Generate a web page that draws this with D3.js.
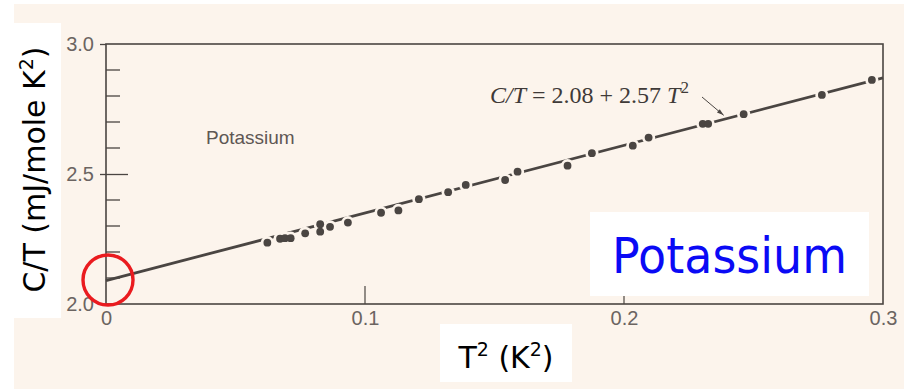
<!DOCTYPE html>
<html>
<head>
<meta charset="utf-8">
<script src="https://cdn.jsdelivr.net/npm/d3@7"></script>
<style>
html,body{margin:0;padding:0;background:#ffffff;}
svg{display:block;}
</style>
</head>
<body>
<svg id="chart" width="904" height="389"></svg>
<script>
// ---- data ----
const t2Values = [0.0623, 0.0672, 0.0691, 0.0713, 0.0769, 0.0827, 0.0827, 0.0865, 0.0934,
                  0.1062, 0.1129, 0.1208, 0.1321, 0.1389, 0.1541, 0.1589, 0.1782, 0.1876,
                  0.2034, 0.2095, 0.2304, 0.2325, 0.2462, 0.2764, 0.2957];
const ctValues = [2.236, 2.251, 2.253, 2.253, 2.272, 2.307, 2.278, 2.297, 2.313,
                  2.351, 2.360, 2.403, 2.430, 2.458, 2.477, 2.509, 2.532, 2.580,
                  2.609, 2.640, 2.693, 2.693, 2.730, 2.804, 2.862];
const fitLineT2 = [0, 0.3];
const fitLineCT = [2.09, 2.87];
const xTickValues = [0, 0.1, 0.2, 0.3];
const xTickLabels = ["0", "0.1", "0.2", "0.3"];
const yTickValues = [2.0, 2.5, 3.0];
const yTickLabels = ["2.0", "2.5", "3.0"];
const yMinorTicks = [2.1, 2.2, 2.3, 2.4, 2.6, 2.7, 2.8, 2.9];

const svg = d3.select("#chart");
const W = 904, H = 389;
const ink = "#4a4542";
const paper = "#fcf4ec";

// scanned page background
svg.append("rect").attr("x", 14).attr("y", 4).attr("width", W - 14).attr("height", H - 4).attr("fill", paper);
// white label boxes
svg.append("rect").attr("x", 0).attr("y", 23).attr("width", 61).attr("height", 295).attr("fill", "#ffffff");
svg.append("rect").attr("x", 440).attr("y", 324).attr("width", 132).attr("height", 58).attr("fill", "#ffffff");

const x = d3.scaleLinear().domain([0, 0.3]).range([106, 883]);
const y = d3.scaleLinear().domain([2, 3]).range([304, 44]);

// frame
svg.append("rect").attr("x", x(0)).attr("y", y(3)).attr("width", x(0.3) - x(0)).attr("height", y(2) - y(3))
  .attr("fill", "none").attr("stroke", ink).attr("stroke-width", 1.6);

// y axis ticks (inward minor, crossing major)
const yAxis = d3.axisLeft(y).tickValues(yTickValues)
  .tickFormat((d, i) => yTickLabels[i]).tickSizeInner(6).tickSizeOuter(0).tickPadding(6);
const gy = svg.append("g").attr("transform", `translate(${x(0)},0)`).call(yAxis);
gy.select(".domain").remove();
gy.selectAll(".tick line").attr("stroke", ink).attr("stroke-width", 1.3);
gy.selectAll(".tick").filter(d => d === 2.5).select("line").attr("x1", 22).attr("x2", -6);
gy.selectAll(".tick text").attr("fill", "#6b6461").attr("font-family", "Liberation Sans, Arial, sans-serif")
  .attr("font-size", 20).attr("dy", "0.34em");

svg.append("g").selectAll("line").data(yMinorTicks).join("line")
  .attr("x1", x(0)).attr("x2", x(0) + 14)
  .attr("y1", d => y(d)).attr("y2", d => y(d))
  .attr("stroke", ink).attr("stroke-width", 1.3);

// x axis
const xAxis = d3.axisBottom(x).tickValues(xTickValues)
  .tickFormat((d, i) => xTickLabels[i]).tickSize(0).tickPadding(7);
const gx = svg.append("g").attr("transform", `translate(0,${y(2)})`).call(xAxis);
gx.select(".domain").remove();
gx.selectAll(".tick text").attr("fill", "#6b6461").attr("font-family", "Liberation Sans, Arial, sans-serif")
  .attr("font-size", 20).attr("dy", "0.71em");
svg.append("g").selectAll("line").data(xTickValues.filter(d => d > 0 && d < 0.3)).join("line")
  .attr("x1", d => x(d)).attr("x2", d => x(d))
  .attr("y1", y(2)).attr("y2", y(2) - 18)
  .attr("stroke", ink).attr("stroke-width", 1.2);

// fit line
const lineData = fitLineT2.map((t, i) => ({t: t, c: fitLineCT[i]}));
svg.append("path").datum(lineData)
  .attr("d", d3.line().x(d => x(d.t)).y(d => y(d.c)))
  .attr("stroke", ink).attr("stroke-width", 2.8).attr("fill", "none");

// points with paper-coloured halo breaking the line
const pts = t2Values.map((t, i) => ({t: t, c: ctValues[i]}));
svg.append("g").selectAll("circle.halo").data(pts).join("circle")
  .attr("cx", d => x(d.t)).attr("cy", d => y(d.c)).attr("r", 6.6).attr("fill", paper);
svg.append("g").selectAll("circle.pt").data(pts).join("circle")
  .attr("cx", d => x(d.t)).attr("cy", d => y(d.c)).attr("r", 3.9).attr("fill", ink);

// small label inside plot
svg.append("text").attr("x", 206).attr("y", 144).text("Potassium")
  .attr("font-family", "Liberation Sans, Arial, sans-serif").attr("font-size", 19).attr("fill", "#5e5754");

// formula annotation
const ann = svg.append("text").attr("x", 490).attr("y", 103)
  .attr("font-family", "Liberation Serif, Times New Roman, serif").attr("font-size", 24).attr("fill", "#3f3a38");
ann.append("tspan").attr("font-style", "italic").text("C/T");
ann.append("tspan").text(" = 2.08 + 2.57 ");
ann.append("tspan").attr("font-style", "italic").text("T");
ann.append("tspan").attr("font-size", 17).attr("dy", -10).text("2");

// arrow to the line
const arrowTipT = 0.2385;
const tipX = x(arrowTipT), tipY = y(2.09 + (2.87 - 2.09) * arrowTipT / 0.3) - 4;
svg.append("line").attr("x1", 702).attr("y1", 97).attr("x2", tipX).attr("y2", tipY)
  .attr("stroke", "#4a4542").attr("stroke-width", 1);
{
  const ang = Math.atan2(tipY - 97, tipX - 702);
  const L = 7, w = 2.2;
  const bx = tipX - L * Math.cos(ang), by = tipY - L * Math.sin(ang);
  svg.append("path")
    .attr("d", `M${tipX},${tipY} L${bx - w * Math.sin(ang)},${by + w * Math.cos(ang)} L${bx + w * Math.sin(ang)},${by - w * Math.cos(ang)} Z`)
    .attr("fill", "#4a4542");
}

// blue label box
svg.append("rect").attr("x", 590).attr("y", 212).attr("width", 279).attr("height", 84).attr("fill", "#ffffff");
svg.append("text").attr("x", 612).attr("y", 273).text("Potassium")
  .attr("font-family", "DejaVu Sans, Verdana, sans-serif").attr("font-size", 50)
  .attr("textLength", 235).attr("lengthAdjust", "spacingAndGlyphs").attr("fill", "#0a0af5");

// axis titles
const yt = svg.append("text").attr("transform", "translate(45,169.5) rotate(-90)")
  .attr("text-anchor", "middle").attr("font-family", "DejaVu Sans, Verdana, sans-serif")
  .attr("font-size", 30).attr("fill", "#000");
yt.append("tspan").text("C/T (mJ/mole K");
yt.append("tspan").attr("font-size", 19).attr("dy", -12).text("2");
yt.append("tspan").attr("dy", 12).text(")");

const xt = svg.append("text").attr("x", 506).attr("y", 368).attr("text-anchor", "middle")
  .attr("font-family", "DejaVu Sans, Verdana, sans-serif").attr("font-size", 30).attr("fill", "#000");
xt.append("tspan").text("T");
xt.append("tspan").attr("font-size", 19).attr("dy", -12).text("2");
xt.append("tspan").attr("dy", 12).text(" (K");
xt.append("tspan").attr("font-size", 19).attr("dy", -12).text("2");
xt.append("tspan").attr("dy", 12).text(")");

// red highlight circle at intercept
svg.append("circle").attr("cx", 108).attr("cy", 280).attr("r", 25)
  .attr("fill", "none").attr("stroke", "#ea1b1f").attr("stroke-width", 3.4);
</script>
</body>
</html>
